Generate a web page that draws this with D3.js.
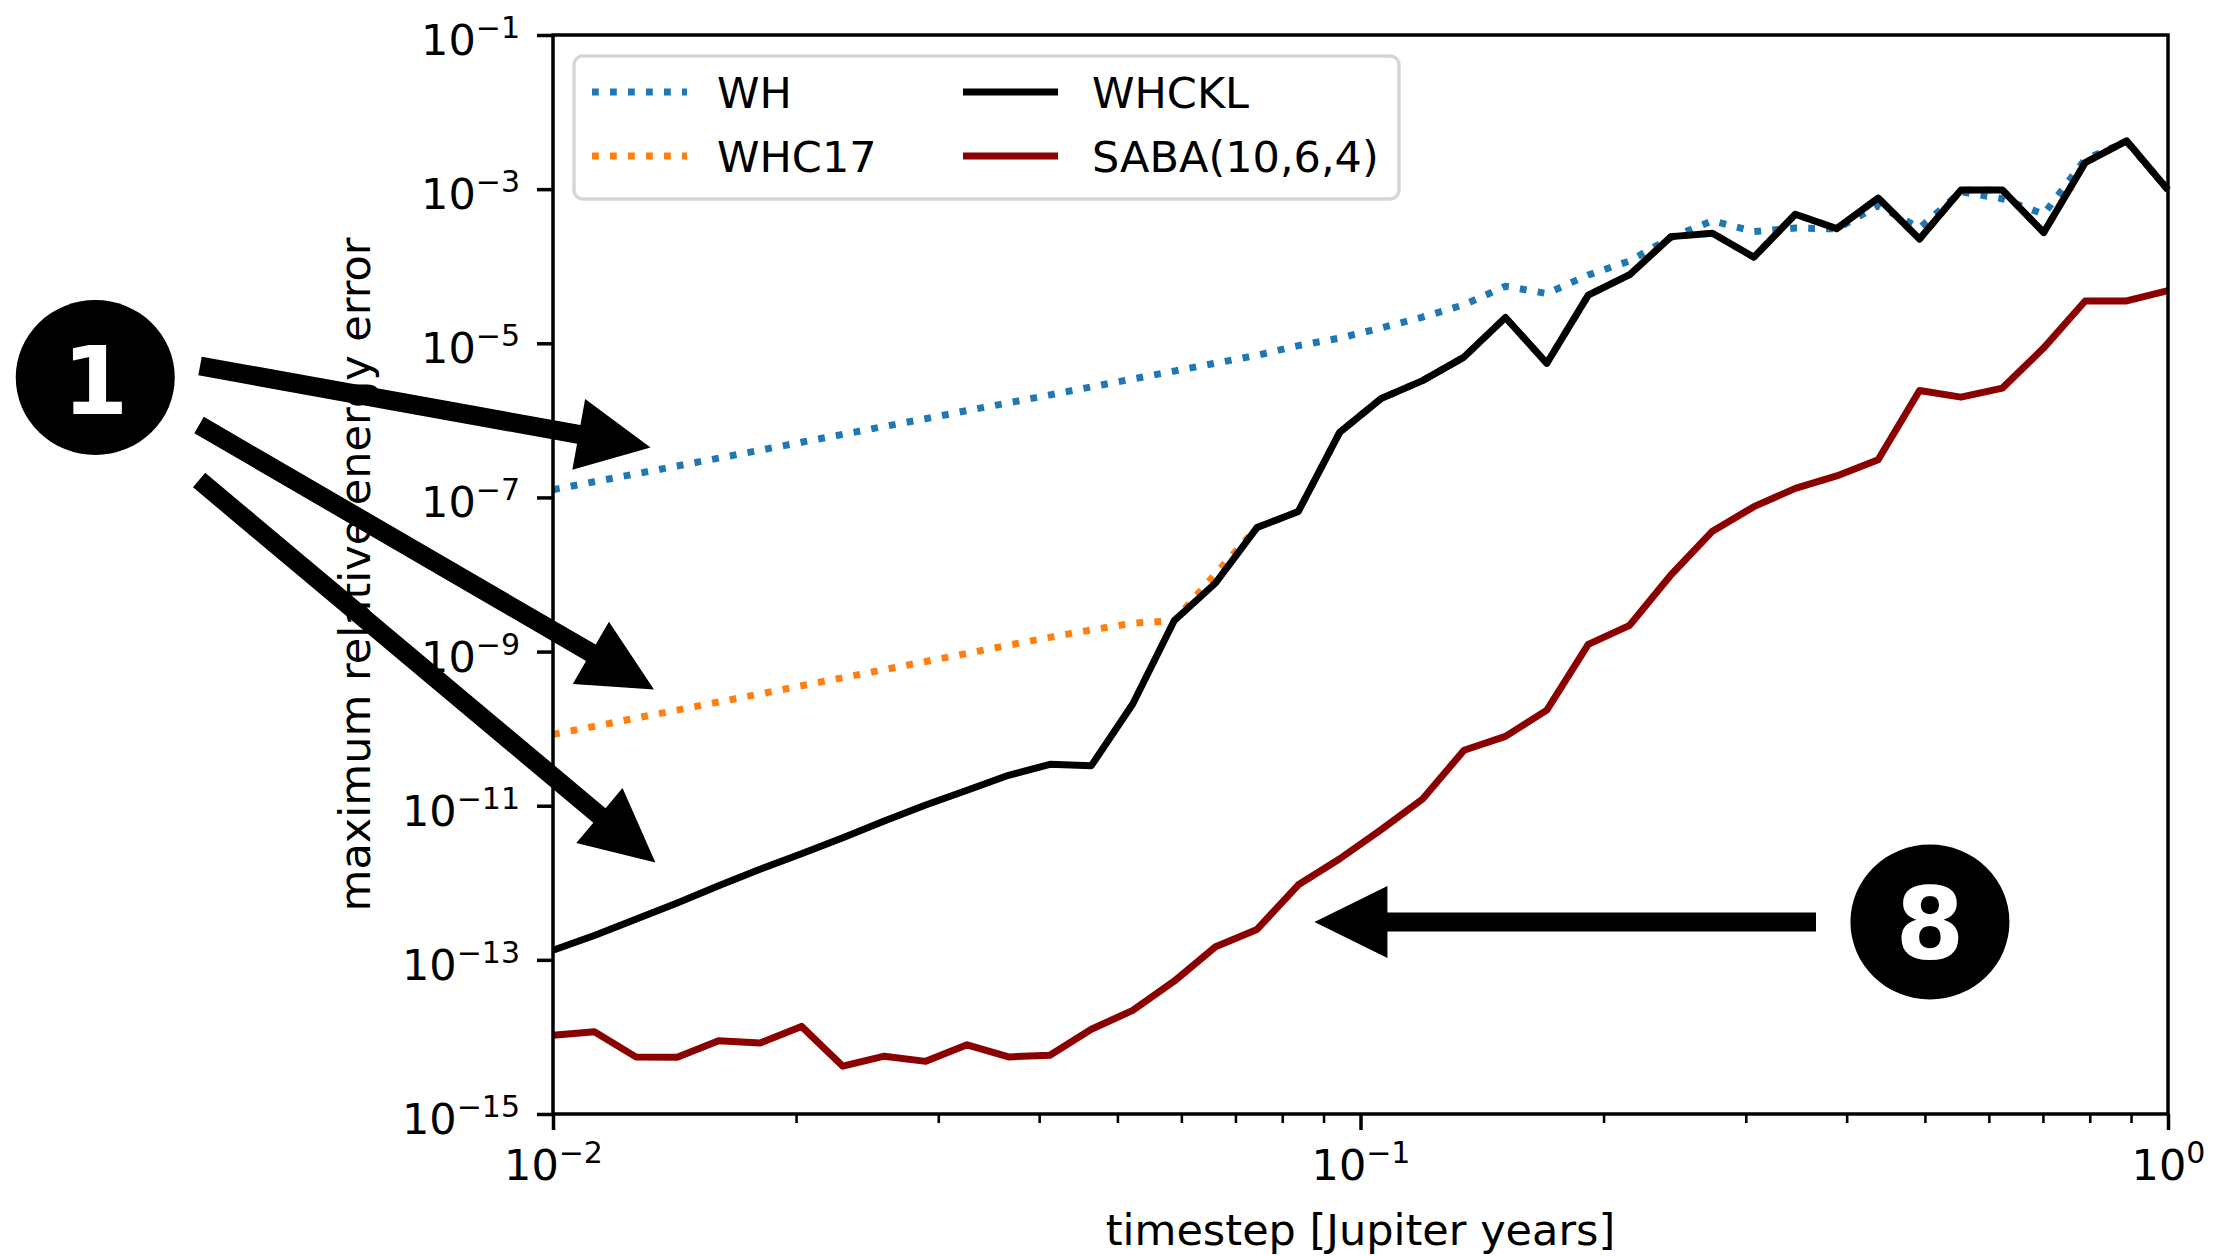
<!DOCTYPE html>
<html>
<head>
<meta charset="utf-8">
<script src="https://cdn.jsdelivr.net/npm/d3@7"></script>
<style>
  body { margin: 0; background: #fff; }
  text { font-family: "DejaVu Sans", sans-serif; }
</style>
</head>
<body>
<script>
// timesteps in Jupiter years (40 steps, log spaced between 0.01 and 1)
const timesteps = [0.01, 0.011253, 0.012663, 0.014251, 0.016037, 0.018047, 0.020309, 0.022855, 0.025719, 0.028943,
  0.032571, 0.036654, 0.041248, 0.046416, 0.052233, 0.05878, 0.066147, 0.074438, 0.083768, 0.094267,
  0.10608, 0.11938, 0.13434, 0.15118, 0.17013, 0.19145, 0.21544, 0.24245, 0.27283, 0.30703,
  0.34551, 0.38882, 0.43755, 0.49239, 0.55411, 0.62355, 0.7017, 0.78965, 0.88862, 1.0];

// maximum relative energy error
const errWH = [1.26e-7, 1.60e-7, 2.02e-7, 2.56e-7, 3.24e-7, 4.10e-7, 5.20e-7, 6.58e-7, 8.34e-7, 1.05e-6,
  1.34e-6, 1.69e-6, 2.14e-6, 2.72e-6, 3.44e-6, 4.36e-6, 5.52e-6, 6.98e-6, 9.33e-6, 1.17e-5,
  1.58e-5, 2.19e-5, 3.16e-5, 5.50e-5, 4.42e-5, 7.69e-5, 1.17e-4, 2.36e-4, 3.89e-4, 2.82e-4,
  3.13e-4, 3.05e-4, 6.12e-4, 3.13e-4, 9.23e-4, 7.52e-4, 4.73e-4, 2.45e-3, 4.10e-3, 1.0e-3];

const errWHC17 = [8.43e-11, 1.07e-10, 1.37e-10, 1.74e-10, 2.22e-10, 2.82e-10, 3.60e-10, 4.58e-10, 5.83e-10, 7.43e-10,
  9.46e-10, 1.21e-9, 1.53e-9, 1.91e-9, 2.34e-9, 2.51e-9, 1.02e-8, 4.06e-8, 6.59e-8, 7.02e-7,
  1.92e-6, 3.28e-6, 6.62e-6, 2.16e-5, 5.50e-6, 4.21e-5, 7.76e-5, 2.42e-4, 2.68e-4, 1.31e-4,
  4.73e-4, 3.07e-4, 7.67e-4, 2.25e-4, 9.73e-4, 9.73e-4, 2.74e-4, 2.21e-3, 4.23e-3, 9.73e-4];

const errWHCKL = [1.33e-13, 2.07e-13, 3.37e-13, 5.47e-13, 9.14e-13, 1.50e-12, 2.38e-12, 3.85e-12, 6.32e-12, 1.02e-11,
  1.59e-11, 2.48e-11, 3.44e-11, 3.31e-11, 2.09e-10, 2.51e-9, 7.76e-9, 4.06e-8, 6.59e-8, 7.02e-7,
  1.92e-6, 3.28e-6, 6.62e-6, 2.16e-5, 5.50e-6, 4.21e-5, 7.76e-5, 2.42e-4, 2.68e-4, 1.31e-4,
  4.73e-4, 3.07e-4, 7.67e-4, 2.25e-4, 9.73e-4, 9.73e-4, 2.74e-4, 2.21e-3, 4.23e-3, 9.73e-4];

const errSABA = [1.05e-14, 1.17e-14, 5.51e-15, 5.43e-15, 8.91e-15, 8.32e-15, 1.37e-14, 4.17e-15, 5.62e-15, 4.82e-15,
  7.89e-15, 5.51e-15, 5.79e-15, 1.26e-14, 2.21e-14, 5.28e-14, 1.48e-13, 2.48e-13, 9.42e-13, 2.05e-12,
  4.89e-12, 1.22e-11, 5.25e-11, 7.94e-11, 1.74e-10, 1.24e-9, 2.19e-9, 9.93e-9, 3.65e-8, 7.59e-8,
  1.31e-7, 1.90e-7, 3.08e-7, 2.44e-6, 2.00e-6, 2.62e-6, 8.73e-6, 3.54e-5, 3.54e-5, 4.81e-5];

const seriesNames = ["WH", "WHC17", "WHCKL", "SABA(10,6,4)"];
const xTickExps = [-2, -1, 0];
const yTickExps = [-1, -3, -5, -7, -9, -11, -13, -15];

// numbered markers and arrows, placed in data coordinates (timestep, error)
const badges = [
  { label: "1", at: [0.002711, 3.6e-6] },
  { label: "8", at: [0.5072, 3.10e-13] }
];
const arrows = [
  { from: [0.003655, 5.07e-6], to: [0.013208, 4.46e-7] },
  { from: [0.003645, 8.70e-7], to: [0.013337, 3.22e-10] },
  { from: [0.003645, 1.68e-7], to: [0.013390, 1.84e-12] },
  { from: [0.3665, 3.10e-13], to: [0.08769, 3.10e-13] }
];

const W = 2213, H = 1256;
const mLeft = 553, mRight = 2168, mTop = 35, mBottom = 1114;

const svg = d3.select("body").append("svg")
  .attr("width", W).attr("height", H);

const x = d3.scaleLog().domain([0.01, 1]).range([mLeft, mRight]);
const y = d3.scaleLog().domain([1e-15, 1e-1]).range([mBottom, mTop]);

// minor x ticks
const minors = [];
[0.01, 0.1].forEach(b => { for (let k = 2; k <= 9; k++) minors.push(b * k); });

svg.append("g")
  .attr("transform", `translate(0,${mBottom})`)
  .call(d3.axisBottom(x).tickValues(minors).tickSize(9).tickSizeOuter(0).tickFormat(""))
  .call(g => g.select(".domain").remove())
  .call(g => g.selectAll("line").attr("stroke-width", 2.6));

const xAxis = svg.append("g")
  .attr("transform", `translate(0,${mBottom})`)
  .call(d3.axisBottom(x).tickValues(xTickExps.map(e => Math.pow(10, e))).tickSize(16).tickSizeOuter(0));
xAxis.select(".domain").remove();
xAxis.selectAll("line").attr("stroke-width", 3.5);
xAxis.selectAll(".tick text").each(function(d, i) {
  const t = d3.select(this);
  t.text("10").attr("y", 66).attr("dy", null).attr("font-size", 43).attr("fill", "#000");
  t.append("tspan").attr("dy", -17).attr("font-size", 30)
    .text(xTickExps[i] < 0 ? "\u2212" + Math.abs(xTickExps[i]) : String(xTickExps[i]));
});

const yAxis = svg.append("g")
  .attr("transform", `translate(${mLeft},0)`)
  .call(d3.axisLeft(y).tickValues(yTickExps.map(e => Math.pow(10, e))).tickSize(16).tickSizeOuter(0));
yAxis.select(".domain").remove();
yAxis.selectAll("line").attr("stroke-width", 3.5);
yAxis.selectAll(".tick text").each(function(d, i) {
  const t = d3.select(this);
  t.text("10").attr("x", -33).attr("y", 19.5).attr("dy", null).attr("font-size", 43).attr("fill", "#000");
  t.append("tspan").attr("dy", -17).attr("font-size", 30)
    .text("\u2212" + Math.abs(yTickExps[i]));
});

// lines
const line = d3.line()
  .x((d, i) => x(timesteps[i]))
  .y(d => y(d));

const series = [
  { name: seriesNames[0], values: errWH, color: "#1f77b4", dash: "6.8,11.2" },
  { name: seriesNames[1], values: errWHC17, color: "#ff7f0e", dash: "6.8,11.2" },
  { name: seriesNames[2], values: errWHCKL, color: "#000000", dash: null },
  { name: seriesNames[3], values: errSABA, color: "#8b0000", dash: null }
];

svg.append("g").selectAll("path")
  .data(series)
  .enter()
  .append("path")
  .attr("d", d => line(d.values))
  .attr("fill", "none")
  .attr("stroke", d => d.color)
  .attr("stroke-width", 7)
  .attr("stroke-linejoin", "round")
  .attr("stroke-dasharray", d => d.dash);

// frame
svg.append("rect")
  .attr("x", mLeft).attr("y", mTop)
  .attr("width", mRight - mLeft).attr("height", mBottom - mTop)
  .attr("fill", "none").attr("stroke", "#000").attr("stroke-width", 3.5);

// legend (two columns, filled column first)
const legend = svg.append("g");
legend.append("rect")
  .attr("x", 574).attr("y", 56).attr("width", 825).attr("height", 143).attr("rx", 9)
  .attr("fill", "#fff").attr("fill-opacity", 0.8)
  .attr("stroke", "#d6d6d6").attr("stroke-width", 3.4);

const legPos = [[592, 92], [592, 156], [963, 92], [963, 156]];
series.forEach((s, i) => {
  const [lx, ly] = legPos[i];
  legend.append("line")
    .attr("x1", lx).attr("x2", lx + 95).attr("y1", ly).attr("y2", ly)
    .attr("stroke", s.color).attr("stroke-width", 7)
    .attr("stroke-dasharray", s.dash);
  legend.append("text")
    .attr("x", lx + (i < 2 ? 125 : 129)).attr("y", ly + 15.5)
    .attr("font-size", 43)
    .text(s.name);
});

// axis labels
svg.append("text")
  .attr("x", (mLeft + mRight) / 2).attr("y", 1245)
  .attr("text-anchor", "middle").attr("font-size", 43)
  .text("timestep [Jupiter years]");

svg.append("text")
  .attr("transform", `translate(370,${(mTop + mBottom) / 2}) rotate(-90)`)
  .attr("text-anchor", "middle").attr("font-size", 43)
  .text("maximum relative energy error");

// annotations
const ann = svg.append("g");
arrows.forEach(a => {
  const sx = x(a.from[0]), sy = y(a.from[1]);
  const tx = x(a.to[0]), ty = y(a.to[1]);
  const len = Math.hypot(tx - sx, ty - sy);
  const ux = (tx - sx) / len, uy = (ty - sy) / len;
  const nx = -uy, ny = ux;
  const hw = 9.5, hl = 73, hh = 36;
  const bx = tx - ux * hl, by = ty - uy * hl;
  const pts = [
    [sx + nx * hw, sy + ny * hw],
    [bx + nx * hw, by + ny * hw],
    [bx + nx * hh, by + ny * hh],
    [tx, ty],
    [bx - nx * hh, by - ny * hh],
    [bx - nx * hw, by - ny * hw],
    [sx - nx * hw, sy - ny * hw]
  ];
  ann.append("polygon")
    .attr("points", pts.map(p => p.join(",")).join(" "))
    .attr("fill", "#000");
});

badges.forEach(b => {
  const cx = x(b.at[0]), cy = y(b.at[1]);
  ann.append("ellipse")
    .attr("cx", cx).attr("cy", cy).attr("rx", 79.5).attr("ry", 77.5)
    .attr("fill", "#000");
  ann.append("text")
    .attr("x", cx).attr("y", cy + 37)
    .attr("text-anchor", "middle")
    .attr("font-family", "Liberation Sans, Arial, sans-serif")
    .attr("font-weight", "bold")
    .attr("font-size", b.label === "1" ? 95 : 99)
    .attr("fill", "#fff")
    .text(b.label);
});
</script>
</body>
</html>
